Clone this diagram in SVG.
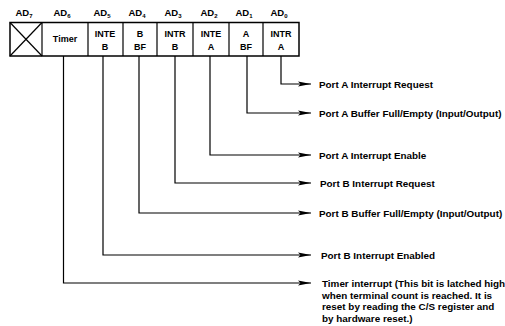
<svg xmlns="http://www.w3.org/2000/svg" width="505" height="326" viewBox="0 0 505 326">
<style>
text{font-family:"Liberation Sans",Arial,sans-serif;fill:#000}
.hd{font-size:9.5px;font-weight:bold;text-anchor:middle}
.sub{font-size:6px}
.cell{font-size:9px;font-weight:bold;text-anchor:middle}
.lbl{font-size:9.9px;font-weight:bold}
.box{fill:#fff;stroke:#000;stroke-width:1.5}
.wire{fill:none;stroke:#000;stroke-width:1.2}
</style>
<defs>
<marker id="ah" markerWidth="13" markerHeight="6" refX="13" refY="3" orient="auto" markerUnits="userSpaceOnUse">
<path d="M0,0.5 L13,3 L0,5.5 L2.5,3 Z" fill="#000"/>
</marker>
</defs>
<g id="register">
<rect class="box" x="10" y="22.5" width="289" height="33.5"/>
<g class="wire">
<line x1="42" y1="22.5" x2="42" y2="56"/>
<line x1="88" y1="22.5" x2="88" y2="56"/>
<line x1="123" y1="22.5" x2="123" y2="56"/>
<line x1="157" y1="22.5" x2="157" y2="56"/>
<line x1="193" y1="22.5" x2="193" y2="56"/>
<line x1="229" y1="22.5" x2="229" y2="56"/>
<line x1="263" y1="22.5" x2="263" y2="56"/>
</g>
</g>
<g id="ad7"><text class="hd" x="24" y="16">AD<tspan class="sub" dy="2">7</tspan></text>
<line x1="10" y1="22.5" x2="42" y2="56" stroke="#000" stroke-width="1.2"/><line x1="42" y1="22.5" x2="10" y2="56" stroke="#000" stroke-width="1.2"/></g>
<g id="ad6"><text class="hd" x="62" y="16">AD<tspan class="sub" dy="2">6</tspan></text><text class="cell" x="65" y="42">Timer</text></g>
<g id="ad5"><text class="hd" x="102" y="16">AD<tspan class="sub" dy="2">5</tspan></text><text class="cell" x="105" y="37">INTE</text><text class="cell" x="105" y="50">B</text></g>
<g id="ad4"><text class="hd" x="137" y="16">AD<tspan class="sub" dy="2">4</tspan></text><text class="cell" x="140" y="37">B</text><text class="cell" x="140" y="50">BF</text></g>
<g id="ad3"><text class="hd" x="173" y="16">AD<tspan class="sub" dy="2">3</tspan></text><text class="cell" x="175" y="37">INTR</text><text class="cell" x="175" y="50">B</text></g>
<g id="ad2"><text class="hd" x="209" y="16">AD<tspan class="sub" dy="2">2</tspan></text><text class="cell" x="211" y="37">INTE</text><text class="cell" x="211" y="50">A</text></g>
<g id="ad1"><text class="hd" x="244" y="16">AD<tspan class="sub" dy="2">1</tspan></text><text class="cell" x="246" y="37">A</text><text class="cell" x="246" y="50">BF</text></g>
<g id="ad0"><text class="hd" x="279" y="16">AD<tspan class="sub" dy="2">0</tspan></text><text class="cell" x="281" y="37">INTR</text><text class="cell" x="281" y="50">A</text></g>
<g id="connectors" class="wire">
<polyline points="281,56 281,84 311,84" marker-end="url(#ah)"/>
<polyline points="247,56 247,113 311,113" marker-end="url(#ah)"/>
<polyline points="210,56 210,155 311,155" marker-end="url(#ah)"/>
<polyline points="175,56 175,183 311,183" marker-end="url(#ah)"/>
<polyline points="139,56 139,213 311,213" marker-end="url(#ah)"/>
<polyline points="103,56 103,255 311,255" marker-end="url(#ah)"/>
<polyline points="63.5,56 63.5,283 311,283" marker-end="url(#ah)"/>
</g>
<g id="labels">
<text class="lbl" x="319" y="87.5">Port A Interrupt Request</text>
<text class="lbl" x="319" y="116.5">Port A Buffer Full/Empty (Input/Output)</text>
<text class="lbl" x="319" y="158.5">Port A Interrupt Enable</text>
<text class="lbl" x="320" y="186.5">Port B Interrupt Request</text>
<text class="lbl" x="319" y="216.5">Port B Buffer Full/Empty (Input/Output)</text>
<text class="lbl" x="321" y="258.5">Port B Interrupt Enabled</text>
<text class="lbl" x="322" y="287">Timer interrupt (This bit is latched high</text>
<text class="lbl" x="322" y="298.5">when terminal count is reached. It is</text>
<text class="lbl" x="322" y="310">reset by reading the C/S register and</text>
<text class="lbl" x="322" y="321.5">by hardware reset.)</text>
</g>
</svg>
